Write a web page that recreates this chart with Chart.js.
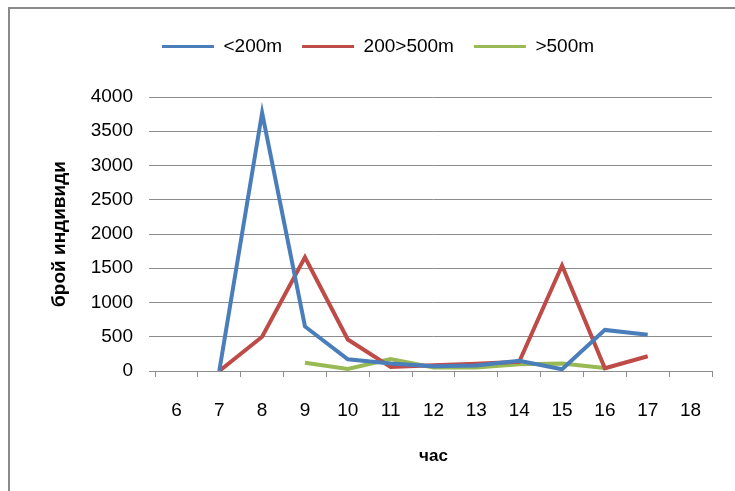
<!DOCTYPE html>
<html>
<head>
<meta charset="utf-8">
<script src="https://cdn.jsdelivr.net/npm/chart.js@4.4.1/dist/chart.umd.min.js"></script>
<style>
  body { margin: 0; background: #fff; }
  #wrap { position: relative; width: 735px; height: 491px; overflow: hidden; }
  #frame { position: absolute; left: 8px; top: 7px; width: 800px; height: 600px;
           border-left: 2px solid #8a8a8a; border-top: 2px solid #8a8a8a; pointer-events: none; }
</style>
</head>
<body>
<div id="wrap">
  <canvas id="myChart" width="735" height="491"></canvas>
  <div id="frame"></div>
</div>
<script>
const hours = ['6', '7', '8', '9', '10', '11', '12', '13', '14', '15', '16', '17', '18'];
const under200 = [null, 0, 3770, 650, 170, 110, 70, 80, 150, 25, 600, 530, null];
const from200to500 = [null, 0, 500, 1660, 460, 60, 85, 105, 135, 1540, 40, 215, null];
const over500 = [null, null, null, 120, 30, 175, 50, 50, 100, 110, 45, null, null];

const font = 'Liberation Sans, Arial, sans-serif';
const gridColor = '#8c8c8c';

// move the legend up and a bit right, like the original
const legendShift = {
    id: 'legendShift',
    afterLayout(chart) {
        const lg = chart.legend;
        lg.left += 22;
        lg.right += 22;
        lg.top -= 31;
        lg.bottom -= 31;
    }
};

const ctx = document.getElementById('myChart').getContext('2d');

new Chart(ctx, {
    type: 'line',
    data: {
        labels: hours,
        datasets: [
            { label: '<200m', data: under200, borderColor: '#4a7ebb', backgroundColor: '#4a7ebb' },
            { label: '200>500m', data: from200to500, borderColor: '#be4b48', backgroundColor: '#be4b48' },
            { label: '>500m', data: over500, borderColor: '#98b954', backgroundColor: '#98b954' }
        ]
    },
    options: {
        responsive: false,
        animation: false,
        devicePixelRatio: 1,
        layout: { padding: { top: 48, right: 23, left: 0, bottom: 0 } },
        elements: {
            line: { borderWidth: 4, tension: 0, borderJoinStyle: 'miter' },
            point: { radius: 0, hoverRadius: 0 }
        },
        plugins: {
            legend: {
                position: 'top',
                labels: {
                    boxWidth: 52,
                    boxHeight: 0,
                    padding: 20,
                    color: '#000',
                    font: { family: font, size: 19 },
                    generateLabels(chart) {
                        const items = Chart.defaults.plugins.legend.labels.generateLabels(chart);
                        items.forEach(it => { it.lineWidth = 3; });
                        return items;
                    }
                }
            },
            tooltip: { enabled: false }
        },
        scales: {
            x: {
                offset: true,
                grid: { offset: true, drawOnChartArea: false, drawTicks: true, tickLength: 6, color: gridColor },
                border: { color: gridColor },
                ticks: { color: '#000', padding: 22, font: { family: font, size: 19 } },
                title: {
                    display: true,
                    text: 'час',
                    color: '#000',
                    padding: { top: 0, bottom: 24 },
                    font: { family: font, size: 17, weight: 'bold' }
                },
                afterFit(scale) { scale.height = 120; }
            },
            y: {
                min: 0,
                max: 4000,
                ticks: {
                    stepSize: 500,
                    color: '#000',
                    padding: 16,
                    font: { family: font, size: 19 },
                    callback: v => String(v)
                },
                grid: { color: gridColor, tickLength: 6 },
                border: { display: false },
                title: {
                    display: true,
                    text: 'брой индивиди',
                    color: '#000',
                    padding: { top: 48, bottom: 0 },
                    font: { family: font, size: 19, weight: 'bold' }
                },
                afterFit(scale) { scale.width = 155; }
            }
        }
    },
    plugins: [legendShift]
});
</script>
</body>
</html>
